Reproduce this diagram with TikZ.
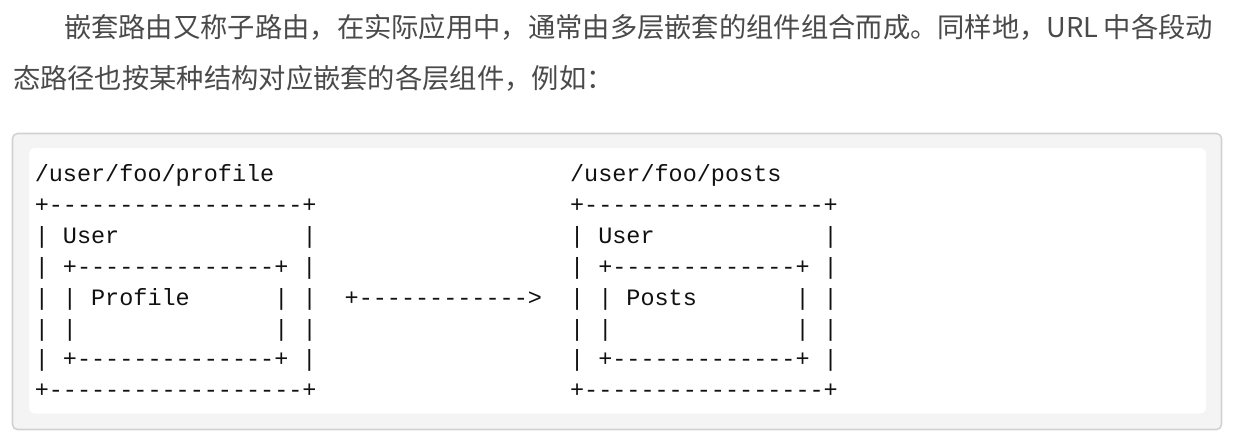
\documentclass[tikz,border=0pt]{standalone}
\usepackage{fontspec}
\newfontfamily\cjk{Noto Sans CJK SC}
\newfontfamily\codefont{Liberation Mono}[Ligatures=TeXOff]
\definecolor{paratext}{HTML}{4A4A4A}
\definecolor{blockbg}{HTML}{F4F4F4}
\definecolor{blockborder}{HTML}{D2D2D2}
\definecolor{codetext}{HTML}{111111}
\def\lsp#1{\ifx#1\relax\else#1\hfil\expandafter\lsp\fi}
\def\urltext{URL\ }
\tikzset{
  paraline/.style={anchor=base west, inner sep=0pt, outer sep=0pt,
    font=\cjk\fontsize{27.3}{32}\selectfont, text=paratext},
  codeline/.style={anchor=base west, inner sep=0pt, outer sep=0pt,
    font=\codefont\fontsize{23.48}{28}\selectfont, text=codetext},
  outerblock/.style={draw=blockborder, fill=blockbg, line width=1.6pt, rounded corners=5pt},
  innerblock/.style={fill=white, rounded corners=6pt}
}
\begin{document}
\begin{tikzpicture}[x=1pt,y=-1pt]
\useasboundingbox (0,0) rectangle (1238,440);
\fill[white] (0,0) rectangle (1238,440);

% paragraph
\node[paraline] (p1) at (64,37) {\makebox[1149pt][s]{\lsp 嵌套路由又称子路由，在实际应用中，通常由多层嵌套的组件组合而成。同样地，\urltext 中各段动\relax\unskip}};
\node[paraline] (p2) at (13,88) {态路径也按某种结构对应嵌套的各层组件，例如：};

% code block
\path[outerblock] (12.5,133.5) rectangle (1221.5,429.5);
\path[innerblock] (29,148) rectangle (1206,413.5);

% left column (col 0)
\node[codeline] (l0) at (34.8,181.7) {/user/foo/profile};
\node[codeline] (l1) at (34.8,212.6) {+------------------+};
\node[codeline] (l2) at (34.8,243.4) {|~User~~~~~~~~~~~~~|};
\node[codeline] (l3) at (34.8,274.3) {|~+--------------+~|};
\node[codeline] (l4) at (34.8,305.1) {|~|~Profile~~~~~~|~|};
\node[codeline] (l5) at (34.8,336.0) {|~|~~~~~~~~~~~~~~|~|};
\node[codeline] (l6) at (34.8,366.9) {|~+--------------+~|};
\node[codeline] (l7) at (34.8,397.7) {+------------------+};

% arrow (col 22)
\node[codeline] (arr) at (344.7,305.1) {+------------>};

% right column (col 38)
\node[codeline] (r0) at (570.1,181.7) {/user/foo/posts};
\node[codeline] (r1) at (570.1,212.6) {+-----------------+};
\node[codeline] (r2) at (570.1,243.4) {|~User~~~~~~~~~~~~|};
\node[codeline] (r3) at (570.1,274.3) {|~+-------------+~|};
\node[codeline] (r4) at (570.1,305.1) {|~|~Posts~~~~~~~|~|};
\node[codeline] (r5) at (570.1,336.0) {|~|~~~~~~~~~~~~~|~|};
\node[codeline] (r6) at (570.1,366.9) {|~+-------------+~|};
\node[codeline] (r7) at (570.1,397.7) {+-----------------+};
\end{tikzpicture}
\end{document}
